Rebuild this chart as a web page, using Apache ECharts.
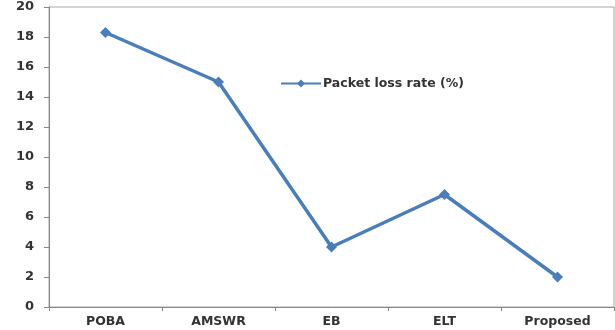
<!DOCTYPE html>
<html><head><meta charset="utf-8">
<script src="https://cdn.jsdelivr.net/npm/echarts@6/dist/echarts.min.js"></script>
<style>html,body{margin:0;padding:0;background:#fff}#c{width:615px;height:330px}</style>
</head><body><div id="c"></div>
<script>
var categories = ['POBA', 'AMSWR', 'EB', 'ELT', 'Proposed'];
var lossRate = [18.3, 15, 4, 7.5, 2];
var seriesName = 'Packet loss rate (%)';

var chart = echarts.init(document.getElementById('c'));
chart.setOption({
  animation: false,
  backgroundColor: '#fff',
  grid: { left: 49, right: 1, top: 7, bottom: 23, show: true, borderColor: '#a6a6a6', borderWidth: 1 },
  legend: {
    data: [seriesName],
    left: 280, top: 77, padding: 0, itemWidth: 40, itemHeight: 10,
    textStyle: { fontFamily: 'DejaVu Sans', fontSize: 12.5, fontWeight: 'bold', color: '#333', padding: [0, 0, 0, -3] }
  },
  xAxis: {
    type: 'category', data: categories, boundaryGap: true,
    axisLine: { lineStyle: { color: '#888', width: 1 } },
    axisTick: { show: true, length: 4, lineStyle: { color: '#888' } },
    axisLabel: { color: '#333', fontFamily: 'DejaVu Sans', fontSize: 12.5, fontWeight: 'bold', margin: 8 }
  },
  yAxis: {
    type: 'value', min: 0, max: 20, interval: 2,
    splitLine: { show: false },
    axisLine: { show: true, lineStyle: { color: '#888', width: 1 } },
    axisTick: { show: true, length: 5, lineStyle: { color: '#888' } },
    axisLabel: { color: '#333', fontFamily: 'DejaVu Sans', fontSize: 13, fontWeight: 'bold', margin: 15 }
  },
  series: [{
    name: seriesName, type: 'line', data: lossRate,
    symbol: 'diamond', symbolSize: 11,
    lineStyle: { color: '#4a7ebb', width: 3.5 },
    itemStyle: { color: '#4a7ebb' }
  }]
});
</script></body></html>
